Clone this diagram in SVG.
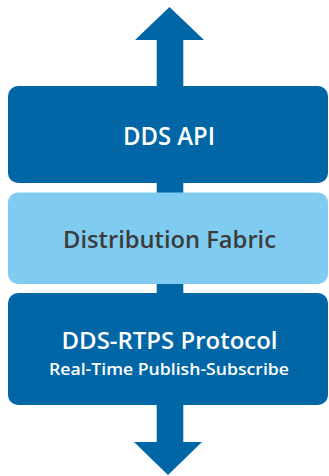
<svg xmlns="http://www.w3.org/2000/svg" width="329" height="476" viewBox="0 0 329 476">
<style>
.dark{fill:#0066a6}
.light{fill:#80ccf1}
.t{font-family:"Open Sans","Liberation Sans",sans-serif;font-weight:600;text-anchor:middle}
.w{fill:#ffffff}
.g{fill:#3c3c3c}
</style>
<g id="connectors">
<polygon class="dark" points="169.5,7 204,40 183.3,40 183.3,200 156.7,200 156.7,40 135,40"/>
<polygon class="dark" points="156.7,280 183.3,280 183.3,442 202,442 168,475 134,442 156.7,442"/>
</g>
<g id="dds-api">
<rect class="dark" x="8" y="86" width="320" height="97" rx="10"/>
<text class="t w" x="169" y="145" font-size="25" textLength="92" lengthAdjust="spacingAndGlyphs">DDS API</text>
</g>
<g id="distribution-fabric">
<rect class="light" x="8" y="192.5" width="320" height="91.5" rx="10"/>
<text class="t g" x="169.5" y="248" font-size="23.5" textLength="213" lengthAdjust="spacingAndGlyphs">Distribution Fabric</text>
</g>
<g id="dds-rtps">
<rect class="dark" x="8" y="293" width="320" height="112" rx="10"/>
<text class="t w" x="169.5" y="349" font-size="24" textLength="216" lengthAdjust="spacingAndGlyphs">DDS-RTPS Protocol</text>
<text class="t w" x="169" y="375" font-size="17" textLength="240" lengthAdjust="spacingAndGlyphs">Real-Time Publish-Subscribe</text>
</g>
</svg>
